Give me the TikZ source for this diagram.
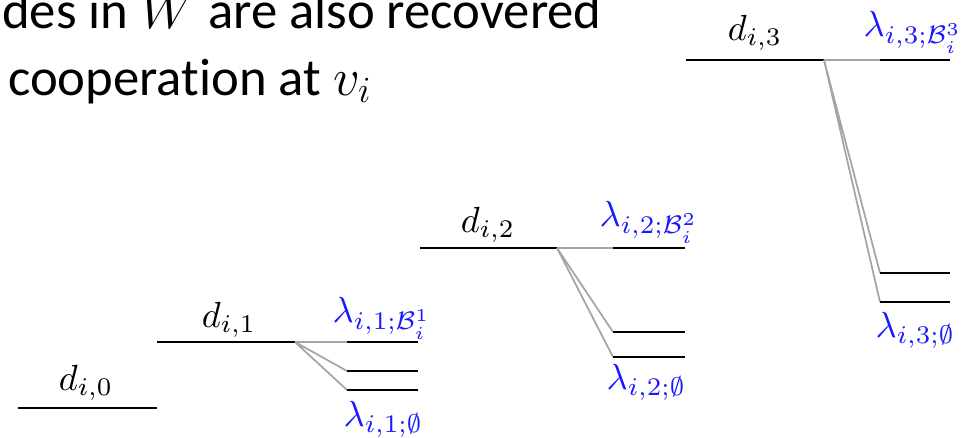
\RequirePackage{fix-cm}
\documentclass[tikz,border=0pt]{standalone}
\usepackage{fontspec}
\newfontfamily\slidefont[Ligatures=NoCommon]{Carlito}
\usetikzlibrary{positioning}
\definecolor{LabelBlue}{RGB}{25,25,255}
\definecolor{SplitGray}{RGB}{165,165,165}
\tikzset{
  level/.style={line width=2.4pt,black},
  sublevel/.style={line width=1.6pt,black},
  split/.style={line width=1.5pt,SplitGray},
  dlabel/.style={anchor=base,inner sep=0pt,scale=3.1},
  lamlabel/.style={anchor=base west,inner sep=0pt,text=LabelBlue,scale=3.1},
  slide/.style={anchor=base west,inner sep=0pt,
    font=\slidefont\fontsize{45}{54}\selectfont}
}

\begin{document}
\begin{tikzpicture}[x=0.03cm,y=-0.03cm]
  \useasboundingbox (0,0) rectangle (969,437);

  % slide text, cut off at the left
  \node[slide] (txta) at (2,28) {des in $W$ are also recovered};
  \node[slide] (txtb) at (8,95) {cooperation at $v_i$};

  % energy levels
  \coordinate (d0w) at (18,408);  \coordinate (d0e) at (157,408);
  \coordinate (d1w) at (157,342); \coordinate (d1e) at (295,342);
  \coordinate (d2w) at (420,248); \coordinate (d2e) at (557,248);
  \coordinate (d3w) at (686,60);  \coordinate (d3e) at (824,60);
  \draw[level] (d0w) -- (d0e);
  \draw[level] (d1w) -- (d1e);
  \draw[level] (d2w) -- (d2e);
  \draw[level] (d3w) -- (d3e);

  \node[dlabel] (d0) at (86,390) {$d_{i,0}$};
  \node[dlabel] (d1) at (229,327) {$d_{i,1}$};
  \node[dlabel] (d2) at (488,232) {$d_{i,2}$};
  \node[dlabel] (d3) at (755,40) {$d_{i,3}$};

  % split levels
  \coordinate (a1) at (347,342); \coordinate (a1e) at (418,342);
  \coordinate (b1) at (347,371); \coordinate (b1e) at (418,371);
  \coordinate (c1) at (347,390); \coordinate (c1e) at (418,390);
  \coordinate (a2) at (613,248); \coordinate (a2e) at (685,248);
  \coordinate (b2) at (613,332); \coordinate (b2e) at (685,332);
  \coordinate (c2) at (613,357); \coordinate (c2e) at (685,357);
  \coordinate (a3) at (880,60);  \coordinate (a3e) at (950,60);
  \coordinate (b3) at (880,273); \coordinate (b3e) at (950,273);
  \coordinate (c3) at (880,302); \coordinate (c3e) at (950,302);

  \draw[split] (d1e) -- (a1) (d1e) -- (b1) (d1e) -- (c1);
  \draw[split] (d2e) -- (a2) (d2e) -- (b2) (d2e) -- (c2);
  \draw[split] (d3e) -- (a3) (d3e) -- (b3) (d3e) -- (c3);

  \draw[sublevel] (a1) -- (a1e) (b1) -- (b1e) (c1) -- (c1e);
  \draw[sublevel] (a2) -- (a2e) (b2) -- (b2e) (c2) -- (c2e);
  \draw[sublevel] (a3) -- (a3e) (b3) -- (b3e) (c3) -- (c3e);

  \node[lamlabel] (l1top) at (332,322) {$\lambda_{i,1;\mathcal{B}_i^1}$};
  \node[lamlabel] (l1bot) at (343,426) {$\lambda_{i,1;\emptyset}$};
  \node[lamlabel] (l2top) at (599,226) {$\lambda_{i,2;\mathcal{B}_i^2}$};
  \node[lamlabel] (l2bot) at (606,389) {$\lambda_{i,2;\emptyset}$};
  \node[lamlabel] (l3top) at (863,36) {$\lambda_{i,3;\mathcal{B}_i^3}$};
  \node[lamlabel] (l3bot) at (875,337) {$\lambda_{i,3;\emptyset}$};
\end{tikzpicture}
\end{document}
